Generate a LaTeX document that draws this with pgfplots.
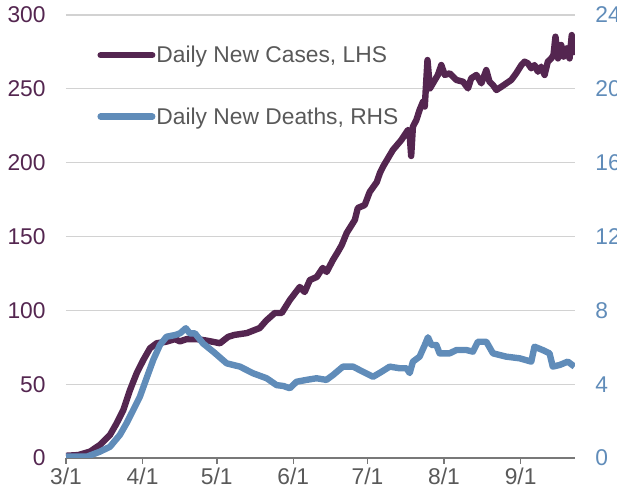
\documentclass[border=0pt]{standalone}
\usepackage{fontspec}
\setmainfont{Liberation Sans}
\usepackage{pgfplots}
\pgfplotsset{compat=1.18}

\definecolor{casecol}{RGB}{84,38,80}
\definecolor{deathcol}{RGB}{96,140,185}
\definecolor{txtgray}{RGB}{89,89,89}
\definecolor{gridgray}{RGB}{210,210,210}
\definecolor{axgray}{RGB}{120,120,120}

\pgfplotsset{
  base/.style={
    scale only axis, width=254.5pt, height=221.5pt,
    xmin=0, xmax=206,
    /pgf/number format/assume math mode=true,
    tick label style={font=\fontsize{11.4}{13}\selectfont},
  },
}

\begin{document}
\begin{tikzpicture}
% cases, left axis
\begin{axis}[base, name=ax,
    ymin=0, ymax=300, ytick={0,50,...,300},
    axis x line*=bottom, axis y line*=left,
    y axis line style={draw=none},
    x axis line style={axgray, line width=1pt},
    ytick style={draw=none},
    xtick={0,31,61,92,122,153,184},
    xticklabels={3/1,4/1,5/1,6/1,7/1,8/1,9/1},
    xtick style={axgray, line width=0.8pt},
    tick align=outside, major tick length=3pt,
    xticklabel style={txtgray, inner sep=0pt, anchor=north, yshift=-2pt},
    yticklabel style={casecol, inner sep=0pt, anchor=east, xshift=-7pt},
    ymajorgrids, grid style={gridgray, line width=0.6pt},
]
\addplot[casecol, line width=3.2pt, line join=round] coordinates {
(0,1.5) (5,2) (9.7,4.3) (13.7,8.8) (17.8,15.6) (20.5,23.5) (23.2,32.5)
(25.9,46) (28.6,57.4) (31.3,66.4) (34,74.3) (36.7,77.7) (40.7,78.8)
(44.1,80.5) (46.1,79) (48.8,80.5) (52.9,80.5) (56.9,79.5) (60,78.5)
(62.3,77.7) (65.6,82) (68,83.3) (73.2,84.6) (78.4,88) (81,93) (84.5,98.2)
(87.3,98.2) (90.6,107) (94.6,115.8) (96.6,112.4) (98.7,120.5) (101.5,122.6)
(103.9,128.7) (105.5,126) (108,134) (110,139.5) (111.6,144.2) (113.6,152.4)
(116.9,161.2) (118.1,169.3) (120.9,171.3) (122.9,180.1) (125.8,186.9)
(127,192.8) (128.3,197.3) (132.3,208.6) (135.7,215.3) (138.4,222.1)
(139,221) (139.7,204.5) (140.4,224.4) (141.8,228.9) (143.1,235.7)
(144.5,241.3) (145.2,238) (146.3,269.5) (147.3,250.3) (148.5,253.7)
(150.5,259.4) (151.9,266.1) (153.3,259.4) (155.3,260.5) (158,256)
(160.7,254.8) (162.7,250.3) (164,257.1) (166.1,259.4) (168.1,253.7)
(170.1,262.7) (171.4,254.8) (172.8,252.6) (174.2,249.2) (176.2,251.4)
(178.2,253.7) (180.2,256) (182.2,260.5) (184.3,266.1) (185.6,268.4)
(186.9,267.3) (188.3,263.9) (189.6,266.1) (191,261.6) (192.3,265)
(193.7,259.4) (195,268.4) (196.4,270.6) (197.3,272.9) (198.1,285.3)
(199.1,270.6) (200.4,279.7) (201.4,271.8) (202.7,277.4) (203.8,270.6)
(204.7,286.4) (205.8,272.9)
};
\end{axis}
% deaths, right axis
\begin{axis}[base,
    ymin=0, ymax=24, ytick={0,4,...,24},
    axis x line=none, axis y line*=right,
    y axis line style={draw=none},
    ytick style={draw=none},
    yticklabel style={deathcol, inner sep=0pt, anchor=west, xshift=10pt},
    legend style={draw=none, fill=none, inner sep=0pt,
      at={(0.061,0.93)}, anchor=north west, row sep=21pt,
      font=\fontsize{11.4}{13}\selectfont, text=txtgray,
      nodes={inner sep=0pt}},
    legend cell align=left,
    legend image code/.code={\draw[#1, line cap=round] (0.7pt,0.5pt) -- (26.5pt,0.5pt);},
]
\addlegendimage{casecol, line width=3.2pt}
\addlegendentry{\hspace{0.5pt}Daily New Cases, LHS}
\addplot[deathcol, line width=3.2pt, line join=round] coordinates {
(0,0.07) (8.4,0.07) (13.7,0.34) (17.8,0.61) (21.8,1.25) (24.5,1.88)
(27.2,2.6) (29.9,3.32) (32.6,4.32) (35.3,5.31) (38,6.12) (40.7,6.57)
(44.1,6.66) (46.1,6.75) (48.5,7.03) (50.1,6.75) (52.2,6.75) (55.5,6.2)
(59.6,5.76) (65,5.13) (70.4,4.95) (75.7,4.59) (81.2,4.32) (85.2,3.95)
(88,3.9) (90.6,3.78) (93.3,4.13) (97.3,4.23) (101.4,4.32) (105.4,4.23)
(108.1,4.5) (112.1,4.95) (116.2,4.95) (120.2,4.67) (124.3,4.4) (127.7,4.67)
(131,4.95) (135.1,4.86) (137.8,4.86) (139.1,4.6) (140.4,5.22) (143.1,5.49)
(145.2,6.12) (146.5,6.54) (147.9,6.12) (149.9,6.12) (151.2,5.67)
(155.3,5.67) (158,5.85) (162,5.85) (164.7,5.76) (166.7,6.3) (170.1,6.3)
(172.8,5.67) (178.2,5.49) (183.6,5.4) (188.3,5.22) (189.6,6.03)
(192.9,5.85) (195.7,5.67) (197,4.95) (199.8,5.04) (203.1,5.22) (205.8,4.95)
};
\addlegendentry{\hspace{0.5pt}Daily New Deaths, RHS}
\end{axis}
\pgfresetboundingbox
\path ([shift={(-33pt,-16.5pt)}]ax.south west) rectangle ([shift={(21pt,7.5pt)}]ax.north east);
\end{tikzpicture}
\end{document}
